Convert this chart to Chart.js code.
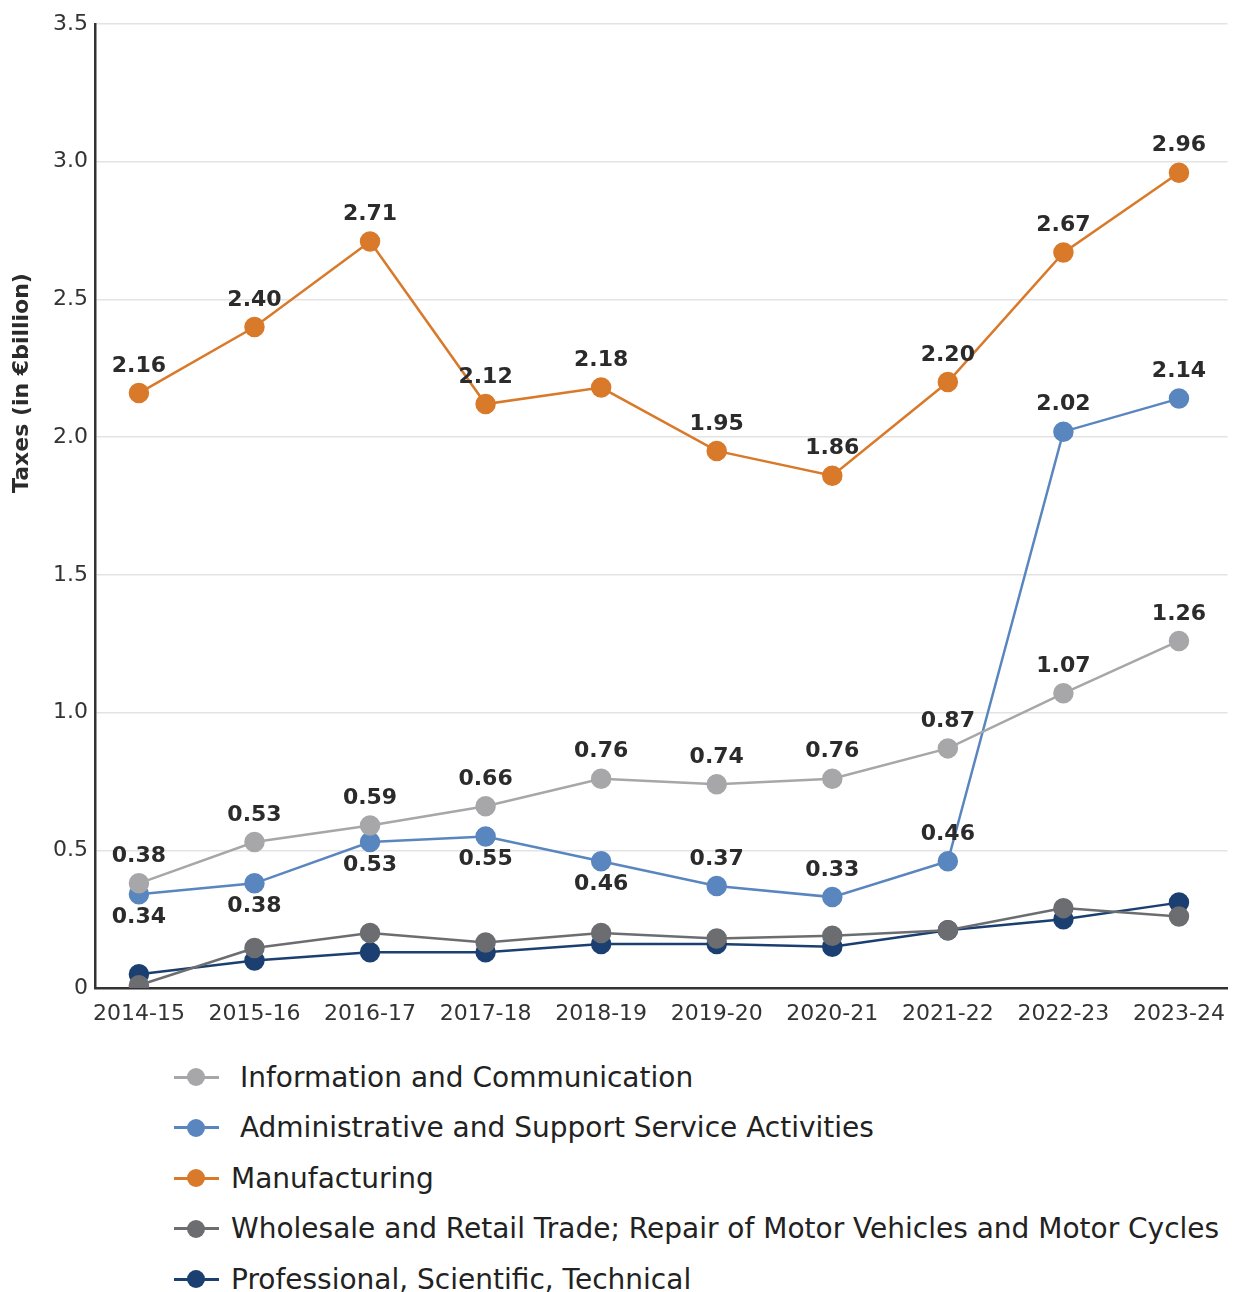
<!DOCTYPE html>
<html>
<head>
<meta charset="utf-8">
<title>Taxes by sector</title>
<script src="https://cdn.jsdelivr.net/npm/chart.js@4.4.1/dist/chart.umd.min.js"></script>
<style>
  body { margin: 0; background: #fff; font-family: 'DejaVu Sans', sans-serif; }
  #wrap { position: relative; width: 1239px; height: 1040px; }
  #legend { position: absolute; left: 174px; top: 1052px; list-style: none; margin: 0; padding: 0; }
  #legend li { height: 50.5px; display: flex; align-items: center; font-size: 28px; color: #222; white-space: pre; }
  .mk { position: relative; width: 45px; height: 20px; margin-right: 12px; flex: none; }
  .mk .ln { position: absolute; left: 0; right: 0; top: 8.5px; height: 3px; }
  .mk .dt { position: absolute; left: 13px; top: 1px; width: 18px; height: 18px; border-radius: 50%; }
</style>
</head>
<body>
<div id="wrap"><canvas id="taxChart" width="1239" height="1040"></canvas></div>
<ul id="legend"></ul>
<script>
// years on the x axis
const years = ['2014-15', '2015-16', '2016-17', '2017-18', '2018-19', '2019-20', '2020-21', '2021-22', '2022-23', '2023-24'];

// taxes in € billion
const infoComm      = [0.38, 0.53, 0.59, 0.66, 0.76, 0.74, 0.76, 0.87, 1.07, 1.26];
const adminSupport  = [0.34, 0.38, 0.53, 0.55, 0.46, 0.37, 0.33, 0.46, 2.02, 2.14];
const manufacturing = [2.16, 2.40, 2.71, 2.12, 2.18, 1.95, 1.86, 2.20, 2.67, 2.96];
const wholesale     = [0.01, 0.145, 0.20, 0.165, 0.20, 0.18, 0.19, 0.21, 0.29, 0.26];
const professional  = [0.05, 0.10, 0.13, 0.13, 0.16, 0.16, 0.15, 0.21, 0.25, 0.31];

const yTicks = [0, 0.5, 1.0, 1.5, 2.0, 2.5, 3.0, 3.5];

function series(label, values, color, labelSide) {
    return {
        label: label,
        data: values.map((v, i) => ({ x: i, y: v })),
        borderColor: color,
        backgroundColor: color,
        pointBackgroundColor: color,
        pointBorderColor: color,
        borderWidth: 2.5,
        pointRadius: 9,
        pointHoverRadius: 9,
        tension: 0,
        labelSide: labelSide
    };
}

// value labels drawn above ('a') or below ('b') each point
const valueLabels = {
    id: 'valueLabels',
    afterDatasetsDraw(chart) {
        const ctx = chart.ctx;
        ctx.save();
        ctx.font = 'bold 22px "DejaVu Sans"';
        ctx.fillStyle = '#2b2b2b';
        ctx.textAlign = 'center';
        ctx.textBaseline = 'middle';
        chart.data.datasets.forEach((ds, i) => {
            if (!ds.labelSide) return;
            chart.getDatasetMeta(i).data.forEach((pt, j) => {
                const below = ds.labelSide[j] === 'b';
                ctx.fillText(ds.data[j].y.toFixed(2), pt.x, pt.y + (below ? 23 : -27));
            });
        });
        ctx.restore();
    }
};

// y axis title, sits higher than the middle of the axis
const yTitle = {
    id: 'yTitle',
    afterDraw(chart) {
        const ctx = chart.ctx;
        ctx.save();
        ctx.translate(22, chart.chartArea.top + 359);
        ctx.rotate(-Math.PI / 2);
        ctx.font = 'bold 22px "DejaVu Sans"';
        ctx.fillStyle = '#2b2b2b';
        ctx.textAlign = 'center';
        ctx.textBaseline = 'middle';
        ctx.fillText('Taxes (in €billion)', 0, 0);
        ctx.restore();
    }
};

const ctx = document.getElementById('taxChart').getContext('2d');
const taxChart = new Chart(ctx, {
    type: 'line',
    data: {
        datasets: [
            series(' Information and Communication', infoComm, '#a7a7aa', ['a','a','a','a','a','a','a','a','a','a']),
            series(' Administrative and Support Service Activities', adminSupport, '#5a86bf', ['b','b','b','b','b','a','a','a','a','a']),
            series('Manufacturing', manufacturing, '#d9792a', ['a','a','a','a','a','a','a','a','a','a']),
            series('Wholesale and Retail Trade; Repair of Motor Vehicles and Motor Cycles', wholesale, '#6c6d70', null),
            series('Professional, Scientific, Technical', professional, '#1b3f70', null)
        ]
    },
    options: {
        responsive: false,
        animation: false,
        devicePixelRatio: 1,
        layout: { padding: { top: 24, right: 10, left: 0, bottom: 0 } },
        plugins: {
            legend: { display: false },
            tooltip: { enabled: false }
        },
        scales: {
            x: {
                type: 'linear',
                min: -0.38,
                max: 9.42,
                afterBuildTicks: (axis) => { axis.ticks = years.map((y, i) => ({ value: i })); },
                afterFit: (axis) => { axis.height = 52; },
                ticks: {
                    callback: (v) => years[v],
                    font: { family: 'DejaVu Sans', size: 22 },
                    color: '#333',
                    padding: 5,
                    maxRotation: 0,
                    autoSkip: false
                },
                grid: { display: false },
                border: { display: true, color: '#333', width: 2.5 }
            },
            y: {
                min: 0,
                max: 3.5,
                afterBuildTicks: (axis) => { axis.ticks = yTicks.map(v => ({ value: v })); },
                afterFit: (axis) => { axis.width = 95; },
                ticks: {
                    callback: (v) => v === 0 ? '0' : v.toFixed(1),
                    font: { family: 'DejaVu Sans', size: 22 },
                    color: '#333',
                    padding: 7
                },
                grid: { color: '#e3e3e3', lineWidth: 1.5, drawTicks: false },
                border: { display: true, color: '#333', width: 2.5 }
            }
        }
    },
    plugins: [valueLabels, yTitle]
});

// legend list below the chart, built from the datasets
const legendEl = document.getElementById('legend');
taxChart.data.datasets.forEach(ds => {
    const li = document.createElement('li');
    li.innerHTML = '<span class="mk"><span class="ln" style="background:' + ds.borderColor + '"></span>' +
        '<span class="dt" style="background:' + ds.borderColor + '"></span></span>';
    li.appendChild(document.createTextNode(ds.label));
    legendEl.appendChild(li);
});
</script>
</body>
</html>
